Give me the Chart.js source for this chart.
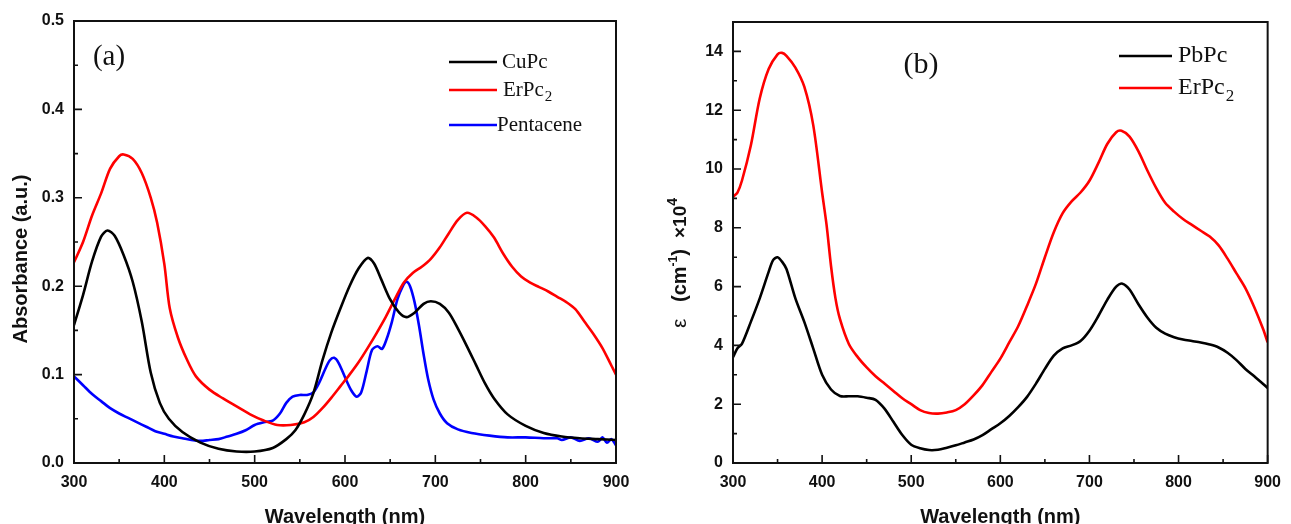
<!DOCTYPE html>
<html>
<head>
<meta charset="utf-8">
<script src="https://cdn.jsdelivr.net/npm/chart.js@4.4.1/dist/chart.umd.min.js"></script>
<style>
  html, body { margin: 0; padding: 0; background: #fff; }
  #wrap { position: relative; width: 1291px; height: 524px; overflow: hidden; }
  canvas { position: absolute; top: 0; }
  #chartA { left: 0; }
  #chartB { left: 645px; }
</style>
</head>
<body>
<div id="wrap">
  <canvas id="chartA" width="645" height="524"></canvas>
  <canvas id="chartB" width="646" height="524"></canvas>
</div>
<script>
// ---------- Data: panel (a), absorbance ----------
const cupcWl = [300, 310, 320, 330, 337, 345, 355, 365, 375, 385, 395, 405, 420, 440, 460, 480, 500, 520, 535, 545,
  555, 565, 575, 585, 595, 605, 615, 625, 632, 640, 650, 660, 668, 677, 687, 695, 705, 715, 725, 735,
  745, 755, 765, 780, 800, 820, 840, 860, 880, 900];
const cupcAbs = [0.156, 0.19, 0.228, 0.256, 0.263, 0.257, 0.235, 0.205, 0.16, 0.102, 0.068, 0.05, 0.035, 0.023, 0.016, 0.013, 0.013, 0.017, 0.027, 0.037,
  0.055, 0.079, 0.116, 0.148, 0.175, 0.2, 0.22, 0.232, 0.226, 0.208, 0.185, 0.17, 0.165, 0.17, 0.18, 0.183, 0.18, 0.17, 0.152, 0.132,
  0.111, 0.09, 0.073, 0.055, 0.042, 0.034, 0.03, 0.028, 0.027, 0.026];

const erpcWlA = [300, 310, 320, 330, 340, 350, 355, 365, 375, 385, 392, 400, 406, 415, 425, 435, 450, 465, 480, 495,
  510, 525, 540, 555, 565, 575, 585, 595, 605, 615, 625, 635, 645, 655, 665, 675, 685, 695, 705, 715,
  725, 735, 745, 755, 765, 775, 785, 795, 805, 815, 825, 835, 845, 855, 865, 875, 885, 895, 900];
const erpcAbs = [0.227, 0.25, 0.28, 0.305, 0.333, 0.347, 0.349, 0.344, 0.328, 0.3, 0.272, 0.225, 0.175, 0.142, 0.117, 0.098, 0.083, 0.073, 0.064, 0.055,
  0.048, 0.043, 0.043, 0.046, 0.052, 0.062, 0.074, 0.087, 0.1, 0.114, 0.13, 0.147, 0.165, 0.185, 0.204, 0.215, 0.222, 0.231, 0.244, 0.26,
  0.275, 0.283, 0.278, 0.268, 0.255, 0.237, 0.222, 0.211, 0.204, 0.199, 0.194, 0.188, 0.182, 0.174, 0.16, 0.146, 0.13, 0.11, 0.1];

const pentWl = [300, 310, 320, 330, 340, 350, 360, 370, 380, 390, 400, 410, 420, 430, 440, 450, 460, 470, 480, 490,
  500, 510, 520, 528, 535, 542, 550, 558, 565, 572, 578, 583, 588, 593, 600, 607, 613, 618, 624, 630,
  636, 641, 646, 652, 658, 664, 668, 672, 677, 682, 687, 692, 698, 705, 713, 725, 740, 760, 780, 800,
  820, 835, 840, 850, 860, 870, 880, 885, 890, 895, 900];
const pentAbs = [0.098, 0.088, 0.078, 0.07, 0.062, 0.056, 0.051, 0.046, 0.041, 0.036, 0.033, 0.03, 0.028, 0.026, 0.025, 0.026, 0.027, 0.03, 0.033, 0.037,
  0.043, 0.046, 0.048, 0.056, 0.068, 0.075, 0.077, 0.077, 0.08, 0.092, 0.106, 0.116, 0.119, 0.113, 0.097, 0.082, 0.075, 0.08, 0.104, 0.128,
  0.132, 0.129, 0.14, 0.16, 0.185, 0.2, 0.205, 0.2, 0.182, 0.155, 0.123, 0.095, 0.072, 0.056, 0.045, 0.038, 0.034, 0.031, 0.029, 0.029,
  0.028, 0.028, 0.026, 0.029, 0.025, 0.028, 0.024, 0.029, 0.023, 0.027, 0.02];

// ---------- Data: panel (b), extinction coefficient (x10^4 cm^-1) ----------
const pbpcWl = [300, 305, 310, 320, 330, 340, 345, 350, 355, 360, 370, 380, 390, 400, 410, 420, 430, 440, 450, 460,
  470, 480, 490, 500, 510, 520, 530, 540, 550, 560, 570, 580, 590, 600, 610, 620, 630, 640, 650, 660,
  670, 680, 690, 700, 710, 720, 730, 737, 745, 755, 765, 775, 785, 795, 805, 815, 825, 835, 845, 855,
  865, 875, 885, 900];
const pbpcEps = [3.6, 3.9, 4.05, 4.8, 5.6, 6.5, 6.9, 7.0, 6.85, 6.6, 5.6, 4.8, 3.9, 3.0, 2.5, 2.28, 2.27, 2.27, 2.22, 2.15,
  1.85, 1.4, 0.95, 0.62, 0.5, 0.44, 0.45, 0.52, 0.6, 0.7, 0.8, 0.95, 1.15, 1.35, 1.6, 1.9, 2.25, 2.7, 3.2, 3.65,
  3.9, 4.0, 4.15, 4.5, 5.0, 5.55, 6.0, 6.1, 5.9, 5.4, 4.95, 4.6, 4.4, 4.28, 4.2, 4.15, 4.1, 4.03, 3.93, 3.75,
  3.5, 3.2, 2.95, 2.55];

const erpcWlB = [300, 305, 310, 320, 330, 340, 350, 355, 360, 370, 380, 390, 400, 405, 410, 415, 420, 430, 440, 450,
  460, 470, 480, 490, 500, 510, 520, 530, 540, 550, 560, 570, 580, 590, 600, 610, 620, 630, 640, 650,
  660, 670, 680, 690, 700, 710, 720, 730, 736, 745, 755, 765, 775, 785, 795, 805, 815, 825, 835, 845,
  855, 865, 875, 885, 895, 900];
const erpcEps = [9.05, 9.2, 9.6, 10.8, 12.4, 13.4, 13.9, 13.95, 13.85, 13.45, 12.8, 11.5, 9.2, 8.1, 6.7, 5.6, 4.9, 4.05, 3.6, 3.25,
  2.95, 2.7, 2.45, 2.2, 2.0, 1.8, 1.7, 1.68, 1.72, 1.8, 2.0, 2.3, 2.65, 3.1, 3.55, 4.1, 4.65, 5.35, 6.1, 7.0,
  7.85, 8.5, 8.9, 9.2, 9.6, 10.2, 10.85, 11.25, 11.3, 11.1, 10.6, 9.95, 9.35, 8.85, 8.55, 8.3, 8.1, 7.9, 7.7, 7.4,
  6.95, 6.45, 5.95, 5.3, 4.55, 4.1];

const xTicks = [300, 400, 500, 600, 700, 800, 900];

const pairs = (xs, ys) => xs.map((x, i) => ({ x: x, y: ys[i] }));

const SANS = '"Liberation Sans", Arial, sans-serif';
const SERIF = '"Liberation Serif", "Times New Roman", serif';

// ---------- Plugin: frame, inward ticks, legend, labels ----------
const decor = {
    id: 'decor',
    afterDatasetsDraw(chart, args, opts) {
        const { ctx, chartArea: a, scales } = chart;
        ctx.save();

        // box around plot
        ctx.strokeStyle = '#111';
        ctx.lineWidth = 2;
        ctx.strokeRect(a.left, a.top, a.right - a.left, a.bottom - a.top);

        // inward major/minor ticks
        ctx.lineWidth = 1.6;
        ctx.beginPath();
        const xs = scales.x, ys = scales.y;
        const xStep = xs.options.ticks.stepSize, yStep = ys.options.ticks.stepSize;
        for (let i = 0; xs.min + i * xStep / 2 <= xs.max + 1e-9; i++) {
            const px = xs.getPixelForValue(xs.min + i * xStep / 2);
            const len = i % 2 === 0 ? 8 : 4;
            ctx.moveTo(px, a.bottom);
            ctx.lineTo(px, a.bottom - len);
        }
        for (let i = 0; ys.min + i * yStep / 2 < ys.max - 1e-9; i++) {
            const py = ys.getPixelForValue(ys.min + i * yStep / 2);
            const len = i % 2 === 0 ? 8 : 4;
            ctx.moveTo(a.left, py);
            ctx.lineTo(a.left + len, py);
        }
        ctx.stroke();

        // legend with subscripts (ErPc2)
        const lg = opts.legend;
        chart.data.datasets.forEach((ds, i) => {
            const y = lg.rows[i];
            ctx.strokeStyle = ds.borderColor;
            ctx.lineWidth = 2.5;
            ctx.beginPath();
            ctx.moveTo(lg.x0, y);
            ctx.lineTo(lg.x1, y);
            ctx.stroke();

            const m = ds.label.match(/^(.*?)(\d+)$/);
            const main = m ? m[1] : ds.label;
            ctx.fillStyle = '#111';
            ctx.textBaseline = 'middle';
            ctx.textAlign = 'left';
            ctx.font = lg.size + 'px ' + SERIF;
            const tx = lg.textX[i];
            ctx.fillText(main, tx, y);
            if (m) {
                const w = ctx.measureText(main).width;
                ctx.font = Math.round(lg.size * 0.72) + 'px ' + SERIF;
                ctx.fillText(m[2], tx + w + 1, y + lg.size * 0.35);
            }
        });

        // panel letter
        ctx.fillStyle = '#111';
        ctx.textAlign = 'center';
        ctx.textBaseline = 'middle';
        ctx.font = opts.panel.size + 'px ' + SERIF;
        ctx.fillText(opts.panel.text, opts.panel.x, opts.panel.y);

        // rotated y-axis title, made of runs (for superscripts)
        const t = opts.yTitle;
        ctx.translate(t.x, t.y);
        ctx.rotate(-Math.PI / 2);
        ctx.textAlign = 'left';
        ctx.textBaseline = 'alphabetic';
        let total = 0;
        t.runs.forEach(r => {
            ctx.font = r.font;
            total += ctx.measureText(r.text).width;
        });
        let cx = -total / 2;
        t.runs.forEach(r => {
            ctx.font = r.font;
            ctx.fillText(r.text, cx, -(r.rise || 0));
            cx += ctx.measureText(r.text).width;
        });
        ctx.restore();
    }
};

function lineSet(label, xs, ys, color) {
    return {
        label: label,
        data: pairs(xs, ys),
        borderColor: color,
        backgroundColor: color,
        borderWidth: 2.6,
        pointRadius: 0,
        fill: false,
        tension: 0.3
    };
}

function makeOptions(cfg) {
    return {
        responsive: false,
        animation: false,
        layout: { padding: { top: cfg.top, right: cfg.right, left: 0, bottom: 0 } },
        plugins: {
            legend: { display: false },
            tooltip: { enabled: false },
            decor: cfg.decor
        },
        scales: {
            x: {
                type: 'linear',
                min: 300,
                max: 900,
                afterFit: s => { s.height = 524 - cfg.bottom; },
                afterBuildTicks: s => { s.ticks = xTicks.map(v => ({ value: v })); },
                grid: { display: false, drawTicks: false },
                border: { display: false },
                ticks: {
                    stepSize: 100,
                    padding: 10,
                    color: '#111',
                    font: { family: SANS, size: 16, weight: 'bold' }
                },
                title: {
                    display: true,
                    text: 'Wavelength (nm)',
                    color: '#111',
                    padding: { top: 0, bottom: -5 },
                    font: { family: SANS, size: 20, weight: 'bold' }
                }
            },
            y: {
                min: cfg.yMin,
                max: cfg.yMax,
                afterFit: s => { s.width = cfg.left; },
                grid: { display: false, drawTicks: false },
                border: { display: false },
                ticks: {
                    stepSize: cfg.yStep,
                    includeBounds: false,
                    padding: 10,
                    color: '#111',
                    font: { family: SANS, size: 16, weight: 'bold' },
                    callback: cfg.yFormat
                }
            }
        }
    };
}

// ---------- Panel (a) ----------
new Chart(document.getElementById('chartA'), {
    type: 'line',
    data: {
        datasets: [
            lineSet('CuPc', cupcWl, cupcAbs, '#000000'),
            lineSet('ErPc2', erpcWlA, erpcAbs, '#ff0000'),
            lineSet('Pentacene', pentWl, pentAbs, '#0000ff')
        ]
    },
    options: makeOptions({
        top: 21, right: 29, left: 74, bottom: 463,
        yMin: 0, yMax: 0.5, yStep: 0.1,
        yFormat: v => v.toFixed(1),
        decor: {
            legend: { x0: 449, x1: 497, textX: [502, 503, 497], rows: [62, 90, 125], size: 21 },
            panel: { text: '(a)', x: 109, y: 57, size: 29 },
            yTitle: {
                x: 27, y: 259,
                runs: [{ text: 'Absorbance (a.u.)', font: 'bold 20px ' + SANS }]
            }
        }
    }),
    plugins: [decor]
});

// ---------- Panel (b) ----------
new Chart(document.getElementById('chartB'), {
    type: 'line',
    data: {
        datasets: [
            lineSet('PbPc', pbpcWl, pbpcEps, '#000000'),
            lineSet('ErPc2', erpcWlB, erpcEps, '#ff0000')
        ]
    },
    options: makeOptions({
        top: 22, right: 15, left: 88, bottom: 463,
        yMin: 0, yMax: 15, yStep: 2,
        yFormat: v => String(v),
        decor: {
            legend: { x0: 474, x1: 527, textX: [533, 533], rows: [56, 88], size: 24 },
            panel: { text: '(b)', x: 276, y: 65, size: 30 },
            yTitle: {
                x: 41, y: 263,
                runs: [
                    { text: 'ε', font: '21px ' + SANS },
                    { text: '   (cm', font: 'bold 20px ' + SANS },
                    { text: '-1', font: 'bold 12px ' + SANS, rise: 9 },
                    { text: ')  ', font: 'bold 20px ' + SANS },
                    { text: '×10', font: 'bold 19px ' + SANS },
                    { text: '4', font: 'bold 14px ' + SANS, rise: 9 }
                ]
            }
        }
    }),
    plugins: [decor]
});
</script>
</body>
</html>
